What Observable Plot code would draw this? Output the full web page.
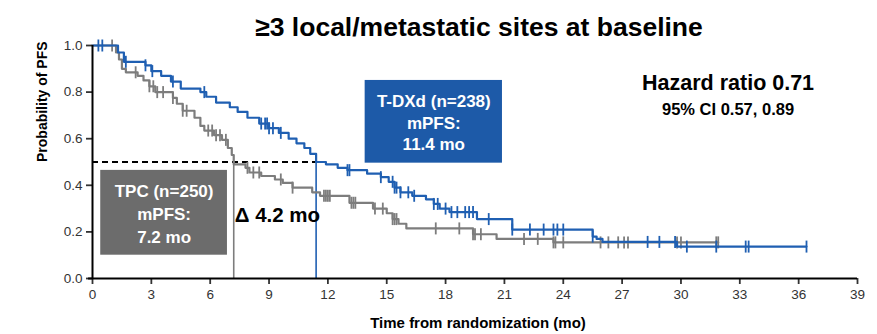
<!DOCTYPE html>
<html>
<head>
<meta charset="utf-8">
<script src="https://cdn.jsdelivr.net/npm/d3@7"></script>
<script src="https://cdn.jsdelivr.net/npm/@observablehq/plot@0.6"></script>
<style>
  html, body { margin: 0; padding: 0; background: #fff; }
  #chart svg { display: block; font-family: "Liberation Sans", Arial, sans-serif; }
</style>
</head>
<body>
<div id="chart"></div>
<script>
// ---- data ----
const title = "≥3 local/metastatic sites at baseline";
const xLabel = "Time from randomization (mo)";
const yLabel = "Probability of PFS";
const xTicks = [0, 3, 6, 9, 12, 15, 18, 21, 24, 27, 30, 33, 36, 39];
const yTicks = [0, 0.2, 0.4, 0.6, 0.8, 1.0];

// T-DXd step curve: [time (mo), PFS probability]
const tdxdCurve = [
  [0, 1.0], [1.3, 0.97], [1.6, 0.93], [2.7, 0.915], [3.0, 0.89], [3.5, 0.87], [4.0, 0.845],
  [4.5, 0.815], [5.5, 0.80], [5.8, 0.78], [6.3, 0.755], [7.0, 0.735], [7.4, 0.715], [7.9, 0.69],
  [8.5, 0.665], [9.0, 0.645], [9.5, 0.625], [10.0, 0.60], [10.4, 0.58], [10.8, 0.56], [11.1, 0.535],
  [11.4, 0.50], [11.9, 0.49], [12.5, 0.475], [13.0, 0.465], [14.0, 0.45], [14.7, 0.435], [15.1, 0.415],
  [15.4, 0.39], [15.7, 0.37], [16.3, 0.355], [17.0, 0.34], [17.4, 0.32], [17.7, 0.30], [18.2, 0.285],
  [19.6, 0.255], [21.4, 0.21], [25.5, 0.18], [25.7, 0.17], [26.0, 0.157], [29.8, 0.137], [36.4, 0.137]
];
// TPC step curve
const tpcCurve = [
  [0, 1.0], [1.2, 0.97], [1.35, 0.94], [1.5, 0.90], [1.7, 0.885], [2.3, 0.87], [2.6, 0.85],
  [2.9, 0.825], [3.2, 0.80], [4.1, 0.775], [4.3, 0.75], [4.6, 0.72], [5.2, 0.69], [5.5, 0.655],
  [5.7, 0.635], [6.2, 0.615], [6.6, 0.595], [6.9, 0.56], [7.1, 0.53], [7.2, 0.49], [7.8, 0.475],
  [8.0, 0.455], [8.6, 0.44], [9.3, 0.425], [9.7, 0.41], [10.2, 0.39], [11.2, 0.37], [11.6, 0.355],
  [13.1, 0.325], [14.3, 0.30], [15.0, 0.28], [15.3, 0.255], [15.6, 0.235], [16.0, 0.215],
  [19.4, 0.19], [20.6, 0.17], [23.5, 0.155], [31.9, 0.155]
];
// censoring times
const tdxdCensor = [0.3, 0.5, 1.7, 2.7, 3.05, 4.1, 5.7, 8.6, 8.8, 8.9, 9.0, 9.2, 9.6, 13.0, 13.1, 14.7,
  15.3, 15.4, 15.5, 15.7, 16.1, 16.4, 17.4, 17.6, 18.0, 18.3, 18.6, 19.0, 19.2, 19.4, 20.2, 21.4, 22.3,
  23.0, 23.5, 23.7, 24.0, 25.5, 28.3, 28.9, 29.7, 30.3, 31.8, 33.3, 33.45, 36.4];
const tpcCensor = [1.0, 2.2, 2.9, 3.1, 3.3, 3.6, 4.1, 4.6, 4.8, 5.9, 6.1, 6.3, 6.5, 6.8, 7.9, 8.2, 8.5,
  9.6, 10.2, 11.8, 11.9, 12.0, 12.1, 13.2, 13.3, 13.4, 14.4, 14.8, 15.3, 15.4, 15.5, 17.5, 18.7, 19.4,
  19.5, 19.8, 22.0, 22.7, 23.5, 23.6, 24.0, 25.9, 26.3, 26.8, 27.1, 27.3, 29.8, 30.0, 31.8, 31.9];
const medians = [7.2, 11.4];            // TPC, T-DXd
const medianLevel = 0.5;
const tdxdBoxText = ["T-DXd (n=238)", "mPFS:", "11.4 mo"];
const tpcBoxText = ["TPC (n=250)", "mPFS:", "7.2 mo"];
const deltaText = "Δ 4.2 mo";
const hrText = "Hazard ratio 0.71";
const ciText = "95% CI 0.57, 0.89";

// ---- styling ----
const BLUE = "#1f5fb2";
const BLUE_BOX = "#1d5aa8";
const GRAY = "#7d7d7d";
const GRAY_BOX = "#6c6c6c";

function survAt(curve, t) {
  let s = curve[0][1];
  for (const [ti, si] of curve) { if (ti <= t) s = si; else break; }
  return s;
}
const toRows = c => c.map(([t, s]) => ({t, s}));
const censorRows = (times, curve) => times.map(t => ({t, s: survAt(curve, t)}));

const tickSymbol = {
  draw(context, size) {
    const h = Math.sqrt(size / Math.PI);
    context.moveTo(0, -h);
    context.lineTo(0, h);
  }
};

const boxLines = (lines, x, yTop, step) => lines.map((text, i) => ({text, x, y: yTop - i * step}));

const chart = Plot.plot({
  width: 877,
  height: 334,
  marginLeft: 92,
  marginRight: 20,
  marginTop: 45,
  marginBottom: 56,
  style: {background: "#fff", fontFamily: "Liberation Sans, Arial, sans-serif"},
  x: {domain: [0, 39]},
  y: {domain: [0, 1]},
  marks: [
    // boxes
    Plot.rect([{x1: 13.9, x2: 20.9, y1: 0.495, y2: 0.85}], {x1: "x1", x2: "x2", y1: "y1", y2: "y2", fill: BLUE_BOX}),
    Plot.rect([{x1: 0.42, x2: 6.88, y1: 0.10, y2: 0.464}], {x1: "x1", x2: "x2", y1: "y1", y2: "y2", fill: GRAY_BOX}),
    // median guides
    Plot.ruleY([medianLevel], {x1: 0, x2: medians[1], stroke: "#000", strokeWidth: 1.8, strokeDasharray: "6,4"}),
    Plot.ruleX([medians[0]], {y1: 0, y2: medianLevel, stroke: GRAY, strokeWidth: 1.6}),
    Plot.ruleX([medians[1]], {y1: 0, y2: medianLevel, stroke: BLUE, strokeWidth: 1.6}),
    // curves
    Plot.line(toRows(tpcCurve), {x: "t", y: "s", curve: "step-after", stroke: GRAY, strokeWidth: 2.2}),
    Plot.dot(censorRows(tpcCensor, tpcCurve), {x: "t", y: "s", symbol: tickSymbol, r: 6, stroke: GRAY, strokeWidth: 1.8, fill: "none"}),
    Plot.line(toRows(tdxdCurve), {x: "t", y: "s", curve: "step-after", stroke: BLUE, strokeWidth: 2.2}),
    Plot.dot(censorRows(tdxdCensor, tdxdCurve), {x: "t", y: "s", symbol: tickSymbol, r: 6, stroke: BLUE, strokeWidth: 1.8, fill: "none"}),
    // axes
    Plot.axisX({ticks: xTicks, tickFormat: d => String(d), tickSize: 6, tickPadding: 5, fontSize: 13.5, color: "#333", label: null, strokeWidth: 1.8}),
    Plot.axisY({ticks: yTicks, tickFormat: d => d.toFixed(1), tickSize: 6, tickPadding: 4, fontSize: 13.5, color: "#333", label: null, strokeWidth: 1.8}),
    Plot.ruleY([0], {x1: -0.2, x2: 39, stroke: "#000", strokeWidth: 2}),
    Plot.ruleX([0], {y1: 0, y2: 1, stroke: "#000", strokeWidth: 2}),
    // box texts
    Plot.text(boxLines(tdxdBoxText, 17.4, 0.76, 0.093), {x: "x", y: "y", text: "text", fill: "#fff", fontSize: 17, fontWeight: "bold"}),
    Plot.text(boxLines(tpcBoxText, 3.65, 0.375, 0.1), {x: "x", y: "y", text: "text", fill: "#fff", fontSize: 17, fontWeight: "bold"}),
    Plot.text([deltaText], {x: 7.2, y: 0.27, dx: 1, text: d => d, textAnchor: "start", fill: "#000", fontSize: 20.5, fontWeight: "bold"}),
    Plot.text([hrText], {x: 32.4, y: 0.84, text: d => d, fill: "#000", fontSize: 21.5, fontWeight: "bold"}),
    Plot.text([ciText], {x: 32.4, y: 0.725, text: d => d, fill: "#000", fontSize: 16.5, fontWeight: "bold"}),
    // title & axis labels
    Plot.text([title], {frameAnchor: "top", dx: 4, dy: -28, text: d => d, fontSize: 26.5, fontWeight: "bold", fill: "#000"}),
    Plot.text([xLabel], {frameAnchor: "bottom", dx: 3, dy: 49, text: d => d, fontSize: 15, fontWeight: "bold", fill: "#000"}),
    Plot.text([yLabel], {frameAnchor: "left", dx: -50, rotate: -90, text: d => d, fontSize: 14, fontWeight: "bold", fill: "#000"})
  ]
});
document.getElementById("chart").append(chart);
</script>
</body>
</html>
